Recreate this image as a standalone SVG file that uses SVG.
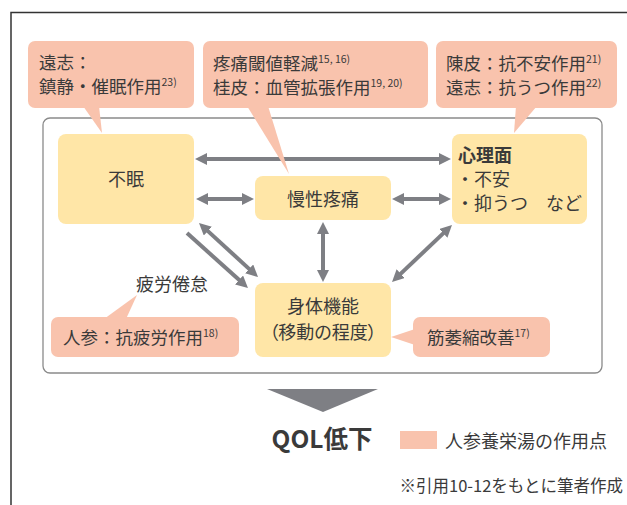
<svg xmlns="http://www.w3.org/2000/svg" width="627" height="505" viewBox="0 0 627 505">
<defs>
<style>
text{font-family:"Noto Sans CJK JP","Noto Sans",sans-serif;fill:#3a3a3a;}
.co{fill:#F9C3AD;}
.nd{fill:#FFE6A7;}
.t{font-size:17.5px;}
.n{font-size:18px;}
.sup{font-size:10.5px;}
.ar{stroke:#7E7F84;stroke-width:4;fill:none;}
</style>
<marker id="ah" viewBox="0 0 12 12" refX="1" refY="6" markerWidth="12" markerHeight="12" markerUnits="userSpaceOnUse" orient="auto-start-reverse">
<path d="M0,0 L12,6 L0,12 z" fill="#7E7F84"/>
</marker>
</defs>
<rect width="627" height="505" fill="#ffffff"/>
<path d="M11,505 V12.5 H627" fill="none" stroke="#333333" stroke-width="1.5"/>
<rect x="43" y="118" width="559" height="255" rx="7" fill="none" stroke="#8A8A8A" stroke-width="1.3"/>

<g id="connectors">
<line class="ar" x1="206" y1="159" x2="440" y2="159" marker-start="url(#ah)" marker-end="url(#ah)"/>
<line class="ar" x1="207" y1="199" x2="243" y2="199" marker-start="url(#ah)" marker-end="url(#ah)"/>
<line class="ar" x1="403" y1="199" x2="440" y2="199" marker-start="url(#ah)" marker-end="url(#ah)"/>
<line class="ar" x1="323" y1="233" x2="323" y2="271" marker-start="url(#ah)" marker-end="url(#ah)"/>
<line class="ar" x1="444" y1="232.6" x2="400" y2="274.4" marker-start="url(#ah)" marker-end="url(#ah)"/>
<line class="ar" x1="207.1" y1="230.4" x2="249.9" y2="269.6" marker-start="url(#ah)" marker-end="url(#ah)"/>
<line class="ar" x1="187" y1="233" x2="239.8" y2="280.6" marker-end="url(#ah)"/>
</g>

<g id="node-fumin">
<rect class="nd" x="58" y="134" width="136" height="90" rx="8"/>
<text class="n" x="126" y="186" text-anchor="middle">不眠</text>
</g>
<g id="node-pain">
<rect class="nd" x="255" y="176" width="136" height="44" rx="8"/>
<text class="n" x="323" y="206" text-anchor="middle">慢性疼痛</text>
</g>
<g id="node-psych">
<rect class="nd" x="452" y="134" width="135" height="90" rx="8"/>
<text class="n" x="458" y="162" font-weight="bold">心理面</text>
<text class="n" x="456" y="186">・不安</text>
<text class="n" x="456" y="210">・抑うつ　など</text>
</g>
<g id="node-body">
<rect class="nd" x="255" y="283" width="136" height="74" rx="8"/>
<text class="n" x="323" y="313" text-anchor="middle">身体機能</text>
<text class="n" x="323" y="339" text-anchor="middle" style="font-feature-settings:'palt'">（移動の程度）</text>
</g>

<g id="callout-onji">
<rect class="co" x="28" y="41" width="166" height="67" rx="7"/>
<polygon class="co" points="83,106 99,106 102,133"/>
<text class="t" x="39" y="69">遠志：</text>
<text class="t" x="39" y="93">鎮静・催眠作用<tspan class="sup" dy="-7">23)</tspan></text>
</g>
<g id="callout-pain">
<rect class="co" x="203" y="41" width="225" height="67" rx="7"/>
<polygon class="co" points="247,106 268,106 289,174"/>
<text class="t" x="213" y="70">疼痛閾値軽減<tspan class="sup" dy="-7">15, 16)</tspan></text>
<text class="t" x="213" y="94">桂皮：血管拡張作用<tspan class="sup" dy="-7">19, 20)</tspan></text>
</g>
<g id="callout-psych">
<rect class="co" x="436" y="41" width="181" height="67" rx="7"/>
<polygon class="co" points="516,106 537,106 514,133"/>
<text class="t" x="446" y="70">陳皮：抗不安作用<tspan class="sup" dy="-7">21)</tspan></text>
<text class="t" x="446" y="94">遠志：抗うつ作用<tspan class="sup" dy="-7">22)</tspan></text>
</g>
<g id="label-fatigue">
<text class="n" x="172" y="291" text-anchor="middle">疲労倦怠</text>
</g>
<g id="callout-ninjin">
<rect class="co" x="51" y="317" width="188" height="40" rx="7"/>
<polygon class="co" points="104,319 126,319 137,295"/>
<text class="t" x="63" y="344">人参：抗疲労作用<tspan class="sup" dy="-7">18)</tspan></text>
</g>
<g id="callout-muscle">
<rect class="co" x="413" y="317" width="137" height="40" rx="7"/>
<polygon class="co" points="415,329 415,345 391,337"/>
<text class="t" x="427" y="344">筋萎縮改善<tspan class="sup" dy="-7">17)</tspan></text>
</g>

<g id="qol">
<polygon points="267,389 378,389 323,412" fill="#7E7F84"/>
<text x="322" y="448" text-anchor="middle" font-size="24.5" font-weight="bold" fill="#2a2a2a">QOL低下</text>
</g>
<g id="legend">
<rect class="co" x="400" y="431" width="37" height="18"/>
<text x="445" y="448" font-size="18">人参養栄湯の作用点</text>
</g>
<text x="623" y="492" text-anchor="end" font-size="16.5">※引用10-12をもとに筆者作成</text>
</svg>
